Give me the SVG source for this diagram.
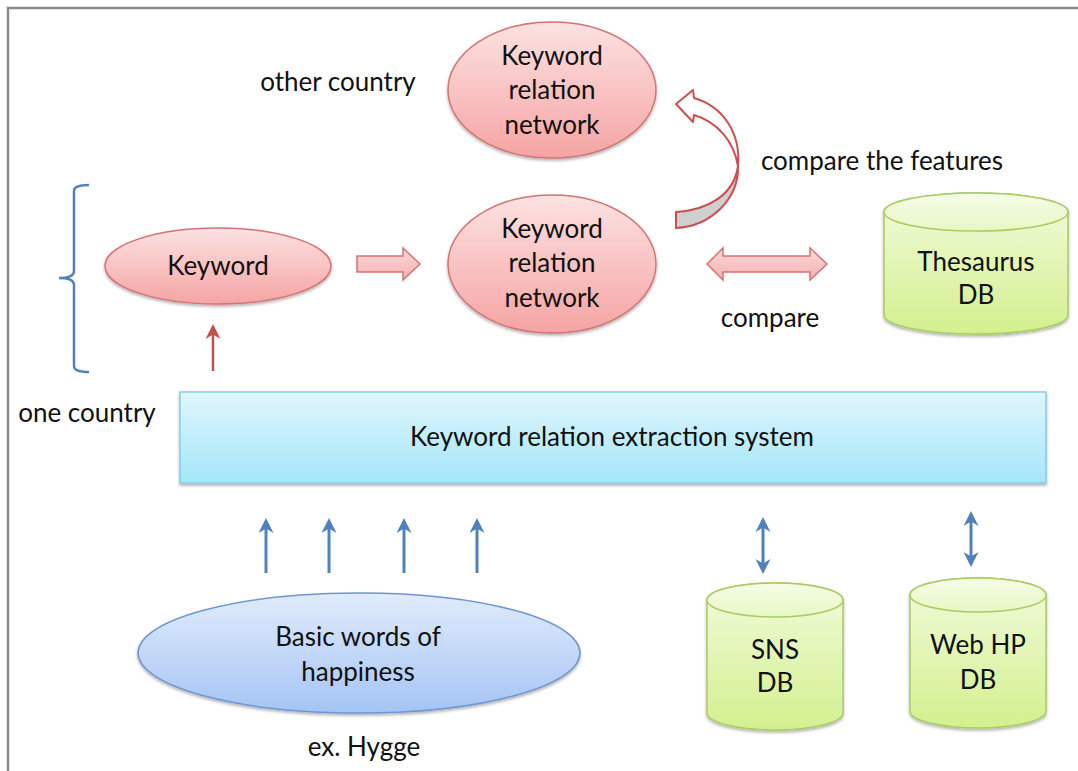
<svg xmlns="http://www.w3.org/2000/svg" width="1078" height="771" viewBox="0 0 1078 771">
<defs>
<linearGradient id="gPink" x1="0" y1="0" x2="0" y2="1"><stop offset="0" stop-color="#fde2e2"/><stop offset="1" stop-color="#f5a4a4"/></linearGradient>
<linearGradient id="gPinkArrow" x1="0" y1="0" x2="0" y2="1"><stop offset="0" stop-color="#fbd9d9"/><stop offset="1" stop-color="#f5b0b0"/></linearGradient>
<linearGradient id="gGreen" x1="0" y1="0" x2="0" y2="1"><stop offset="0" stop-color="#f1fbdc"/><stop offset="1" stop-color="#d3f08e"/></linearGradient>
<linearGradient id="gGreenTop" x1="0" y1="0" x2="0" y2="1"><stop offset="0" stop-color="#f6fce8"/><stop offset="1" stop-color="#e8f8c4"/></linearGradient>
<linearGradient id="gCyan" x1="0" y1="0" x2="0" y2="1"><stop offset="0" stop-color="#e0f7fd"/><stop offset="1" stop-color="#a4e5fa"/></linearGradient>
<linearGradient id="gBlue" x1="0" y1="0" x2="0" y2="1"><stop offset="0" stop-color="#e1ecfc"/><stop offset="1" stop-color="#a5c4f4"/></linearGradient>
<filter id="sh" x="-10%" y="-10%" width="120%" height="130%"><feDropShadow dx="0" dy="2" stdDeviation="1.8" flood-color="#000" flood-opacity="0.3"/></filter>
<marker id="mBlue" viewBox="0 0 10 10" refX="8" refY="5" markerWidth="5" markerHeight="5" orient="auto-start-reverse" markerUnits="strokeWidth"><path d="M0,0 L10,5 L0,10 L3,5 z" fill="#4f81bd"/></marker>
<marker id="mRed" viewBox="0 0 10 10" refX="8" refY="5" markerWidth="6" markerHeight="6" orient="auto-start-reverse" markerUnits="strokeWidth"><path d="M0,0 L10,5 L0,10 L3,5 z" fill="#c0504d"/></marker>
</defs>
<style>
text{font-family:Lato,"Open Sans","Liberation Sans",sans-serif;font-size:26px;fill:#111;text-anchor:middle}
.pink{fill:url(#gPink);stroke:#d47373;stroke-width:1.5}
.parrow{fill:url(#gPinkArrow);stroke:#d47373;stroke-width:1.5}
.cyl{fill:url(#gGreen);stroke:#a8cc62;stroke-width:1.5}
.cyltop{fill:url(#gGreenTop);stroke:#a8cc62;stroke-width:1.5}
.blue{stroke:#4f81bd;stroke-width:3;fill:none}
</style>
<rect width="1078" height="771" fill="#fff"/>
<path d="M8,771 V8 H1078" fill="none" stroke="#8a8a8a" stroke-width="2.5"/>

<g id="labels">
<text x="338" y="91">other country</text>
<text x="882" y="170">compare the features</text>
<text x="770" y="327">compare</text>
<text x="87" y="422">one country</text>
<text x="364" y="756">ex. Hygge</text>
</g>

<g id="brace"><path d="M89,185 Q74,185 74,191 V271 Q74,278 59,278 Q74,278 74,285 V366 Q74,372 89,372" fill="none" stroke="#4f81bd" stroke-width="2.5"/></g>

<g id="network-other">
<ellipse class="pink" cx="552" cy="90" rx="104" ry="68" filter="url(#sh)"/>
<text x="552" y="65">Keyword</text><text x="552" y="99">relation</text><text x="552" y="134">network</text>
</g>

<g id="network-one">
<ellipse class="pink" cx="552" cy="264" rx="104" ry="69" filter="url(#sh)"/>
<text x="552" y="238">Keyword</text><text x="552" y="272">relation</text><text x="552" y="307">network</text>
</g>

<g id="keyword">
<ellipse class="pink" cx="218" cy="266" rx="113" ry="38" filter="url(#sh)"/>
<text x="218" y="275">Keyword</text>
</g>

<g id="thesaurus">
<g filter="url(#sh)">
<path class="cyl" d="M884,212 V315 A92,19 0 0 0 1068,315 V212 A92,19 0 0 0 884,212 Z"/>
<ellipse class="cyltop" cx="976" cy="212" rx="92" ry="19"/>
</g>
<text x="976" y="271">Thesaurus</text><text x="976" y="304">DB</text>
</g>

<g id="extraction-system">
<rect x="180" y="392" width="866" height="91" fill="url(#gCyan)" stroke="#86cde3" stroke-width="1.5" filter="url(#sh)"/>
<text x="612" y="446">Keyword relation extraction system</text>
</g>

<g id="basic-words">
<ellipse cx="359" cy="653" rx="221" ry="60" fill="url(#gBlue)" stroke="#6f96d0" stroke-width="1.5" filter="url(#sh)"/>
<text x="358" y="646">Basic words of</text><text x="358" y="681">happiness</text>
</g>

<g id="sns-db">
<g filter="url(#sh)">
<path class="cyl" d="M707,600 V713 A68,17 0 0 0 843,713 V600 A68,17 0 0 0 707,600 Z"/>
<ellipse class="cyltop" cx="775" cy="600" rx="68" ry="17"/>
</g>
<text x="775" y="659">SNS</text><text x="775" y="692">DB</text>
</g>

<g id="webhp-db">
<g filter="url(#sh)">
<path class="cyl" d="M910,595 V711 A68,17 0 0 0 1046,711 V595 A68,17 0 0 0 910,595 Z"/>
<ellipse class="cyltop" cx="978" cy="595" rx="68" ry="17"/>
</g>
<text x="978" y="654">Web HP</text><text x="978" y="689">DB</text>
</g>

<g id="connectors">
<polygon class="parrow" points="357,256 403,256 403,248 420,264 403,280 403,272 357,272"/>
<polygon class="parrow" points="707,264 723,248 723,256 810,256 810,248 827,264 810,280 810,272 723,272 723,280"/>
<path d="M676,212 C708,210 734,195 738,166 C739,198 712,226 676,228 Z" fill="#cfcfcf" stroke="#c9504d" stroke-width="2" stroke-linejoin="round"/>
<path d="M738,166 C741,132 722,106 694,98 L693,90 L676,104 L693,122 L694,115 C718,122 734,142 738,166 Z" fill="#fff" stroke="#c9504d" stroke-width="2" stroke-linejoin="round"/>
<line x1="213" y1="371" x2="213" y2="327" stroke="#c0504d" stroke-width="2.5" marker-end="url(#mRed)"/>
<line class="blue" x1="266" y1="573" x2="266" y2="521" marker-end="url(#mBlue)"/>
<line class="blue" x1="329" y1="573" x2="329" y2="521" marker-end="url(#mBlue)"/>
<line class="blue" x1="404" y1="573" x2="404" y2="521" marker-end="url(#mBlue)"/>
<line class="blue" x1="477" y1="573" x2="477" y2="521" marker-end="url(#mBlue)"/>
<line class="blue" x1="763" y1="520" x2="763" y2="571" marker-start="url(#mBlue)" marker-end="url(#mBlue)"/>
<line class="blue" x1="971" y1="514" x2="971" y2="564" marker-start="url(#mBlue)" marker-end="url(#mBlue)"/>
</g>
</svg>
